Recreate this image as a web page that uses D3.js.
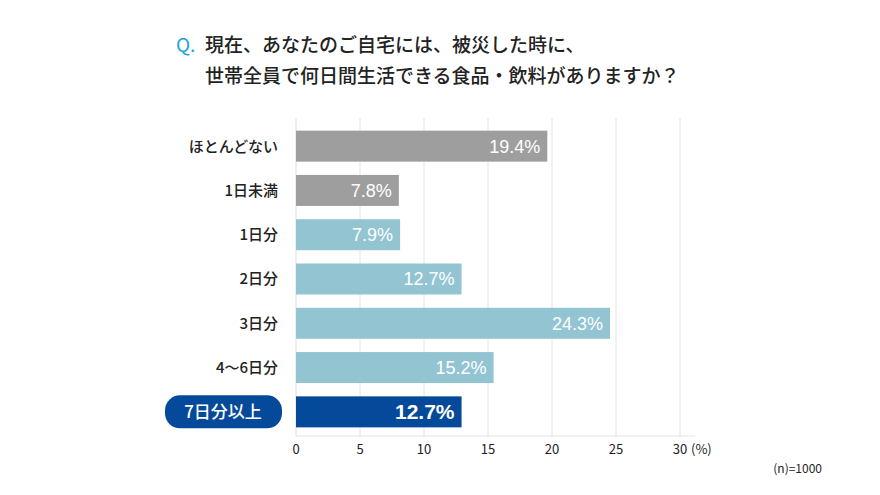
<!DOCTYPE html>
<html><head><meta charset="utf-8">
<script src="https://cdn.jsdelivr.net/npm/d3@7"></script>
<style>body{margin:0;background:#fff}text{font-family:"Noto Sans CJK JP",sans-serif}</style>
</head><body>
<script>
var categories = ["ほとんどない", "1日未満", "1日分", "2日分", "3日分", "4〜6日分", "7日分以上"];
var values = [19.4, 7.8, 7.9, 12.7, 24.3, 15.2, 12.7];
var groups = ["gray", "gray", "blue", "blue", "blue", "blue", "dark"];
var ticks = [0, 5, 10, 15, 20, 25, 30];
var colors = {gray: "#9e9e9e", blue: "#93c4d2", dark: "#054a9a"};

var svg = d3.select("body").append("svg").attr("width", 880).attr("height", 495);

var x = d3.scaleLinear().domain([0, 30]).range([296, 680]);
var y = d3.scaleBand().domain(categories).range([124, 434]).paddingInner(0.3).paddingOuter(0.15);

// title
svg.append("text").attr("x", 176).attr("y", 52).attr("fill", "#1aa3d9")
   .attr("font-size", 19).text("Q.");
var title = ["現在、あなたのご自宅には、被災した時に、", "世帯全員で何日間生活できる食品・飲料がありますか？"];
svg.selectAll(".title").data(title).enter().append("text")
   .attr("x", 205).attr("y", function(d, i){ return 52 + i * 31; })
   .attr("font-size", 19).attr("font-weight", 500).attr("fill", "#222").text(function(d){ return d; });

// grid
svg.selectAll(".grid").data(ticks.slice(1)).enter().append("line")
   .attr("x1", function(d){ return x(d); }).attr("x2", function(d){ return x(d); })
   .attr("y1", 118).attr("y2", 436).attr("stroke", "#e4e4e4");
svg.append("line").attr("x1", 296).attr("x2", 296).attr("y1", 118).attr("y2", 436).attr("stroke", "#ddd");
svg.append("line").attr("x1", 296).attr("x2", 695).attr("y1", 436).attr("y2", 436).attr("stroke", "#e4e4e4");

// bars
svg.selectAll(".bar").data(values).enter().append("rect")
   .attr("x", x(0)).attr("y", function(d, i){ return y(categories[i]); })
   .attr("width", function(d){ return x(d) - x(0) + 3; }).attr("height", y.bandwidth())
   .attr("fill", function(d, i){ return colors[groups[i]]; });
svg.selectAll(".val").data(values).enter().append("text")
   .attr("x", function(d){ return x(d) - 4; })
   .attr("y", function(d, i){ return y(categories[i]) + y.bandwidth() / 2; })
   .attr("dy", "0.36em").attr("text-anchor", "end").attr("fill", "#fff")
   .style("font-family", "'Liberation Sans', Arial")
   .attr("font-size", function(d, i){ return groups[i] == "dark" ? 21 : 18; })
   .attr("font-weight", function(d, i){ return groups[i] == "dark" ? "bold" : "normal"; })
   .text(function(d){ return d.toFixed(1) + "%"; });

// category labels
var last = categories.length - 1;
svg.append("rect").attr("x", 165).attr("y", y(categories[last]) - 1)
   .attr("width", 117).attr("height", y.bandwidth() + 2).attr("rx", 15)
   .attr("fill", colors.dark);
svg.selectAll(".cat").data(categories).enter().append("text")
   .attr("x", function(d, i){ return i == last ? 223 : 278; })
   .attr("y", function(d){ return y(d) + y.bandwidth() / 2; })
   .attr("dy", "0.36em").attr("text-anchor", function(d, i){ return i == last ? "middle" : "end"; })
   .attr("font-size", function(d, i){ return i == last ? 17 : 15; })
   .attr("font-weight", 500)
   .attr("fill", function(d, i){ return i == last ? "#fff" : "#222"; })
   .text(function(d){ return d; });

// x ticks
svg.selectAll(".tick").data(ticks).enter().append("text")
   .attr("x", function(d){ return x(d); }).attr("y", 454)
   .attr("text-anchor", "middle").attr("font-size", 13).attr("fill", "#222")
   .text(function(d){ return d; });
svg.append("text").attr("x", 691).attr("y", 454).attr("font-size", 13).attr("fill", "#222").text("(%)");
svg.append("text").attr("x", 822).attr("y", 473).attr("text-anchor", "end")
   .attr("font-size", 12).attr("fill", "#222").text("(n)=1000");
</script>
</body></html>
